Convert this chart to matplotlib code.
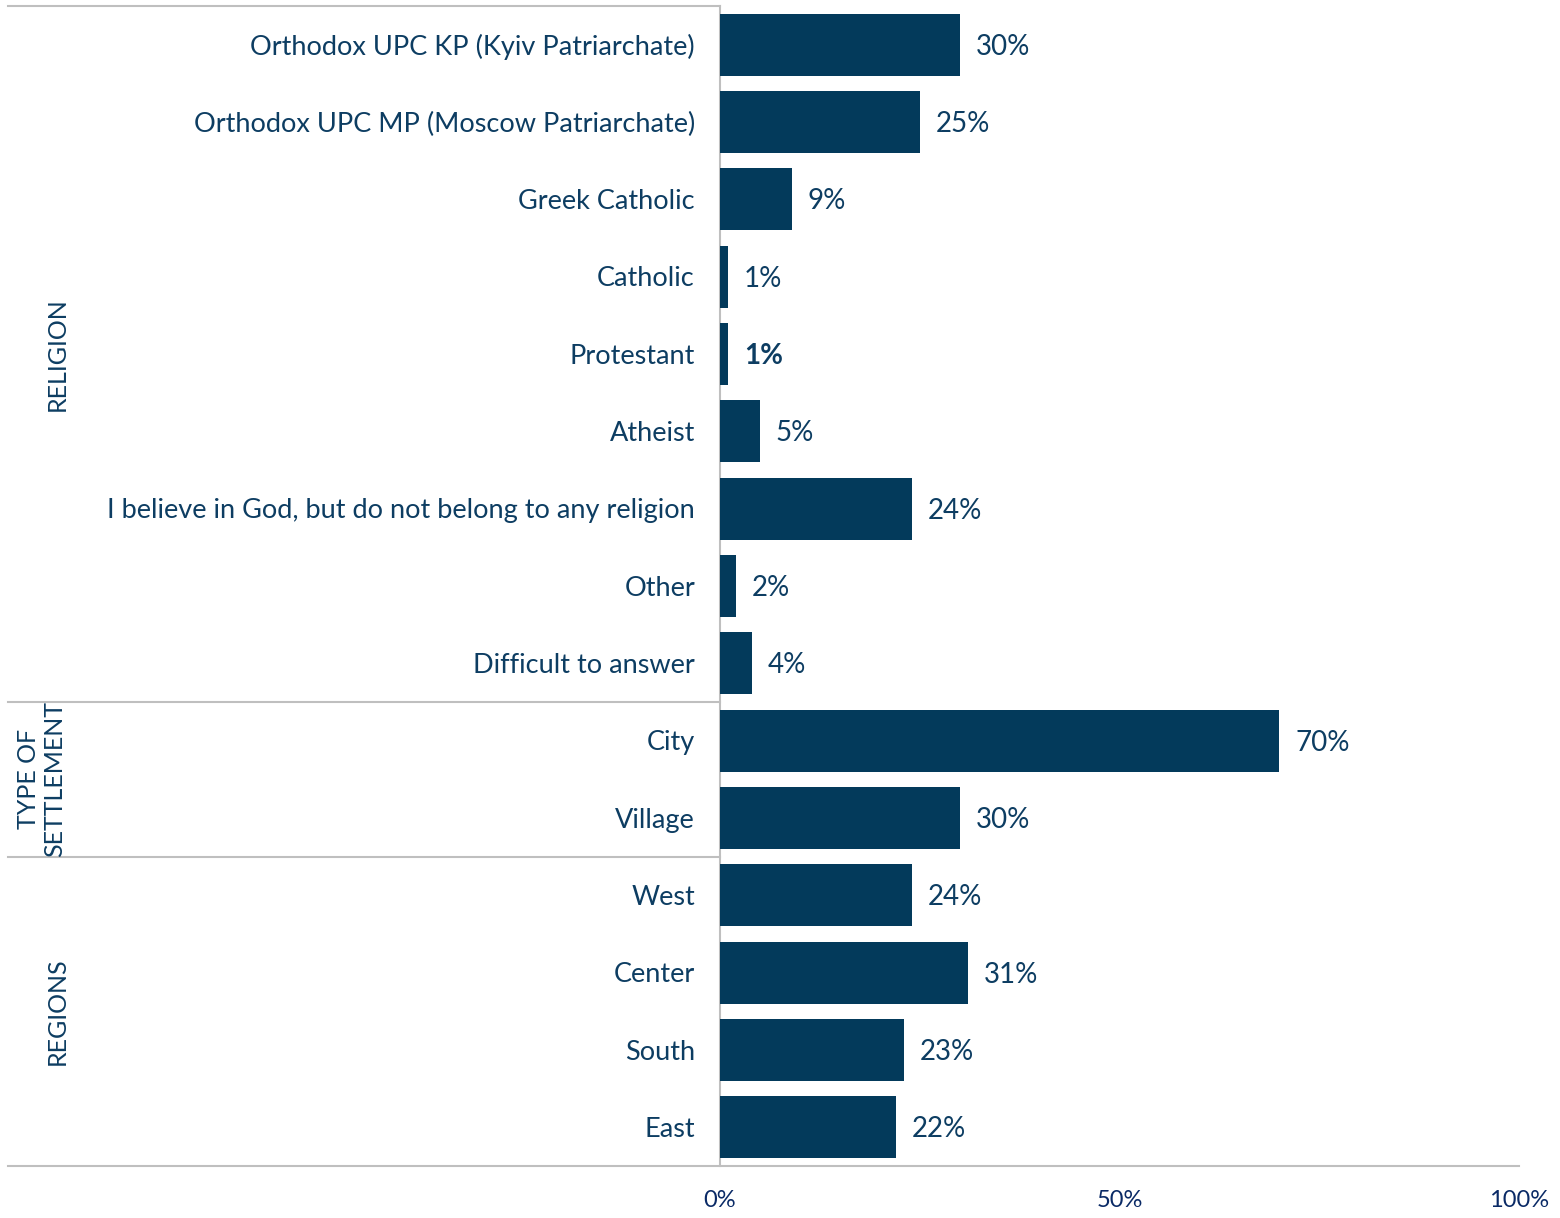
import matplotlib
matplotlib.use("Agg")
import matplotlib.pyplot as plt

# ---- data ----
categories = [
    "Orthodox UPC KP (Kyiv Patriarchate)",
    "Orthodox UPC MP (Moscow Patriarchate)",
    "Greek Catholic",
    "Catholic",
    "Protestant",
    "Atheist",
    "I believe in God, but do not belong to any religion",
    "Other",
    "Difficult to answer",
    "City",
    "Village",
    "West",
    "Center",
    "South",
    "East",
]
values = [30, 25, 9, 1, 1, 5, 24, 2, 4, 70, 30, 24, 31, 23, 22]
value_labels = ["30%", "25%", "9%", "1%", "1%", "5%", "24%", "2%", "4%",
                "70%", "30%", "24%", "31%", "23%", "22%"]
bold_labels = ["no", "no", "no", "no", "yes", "no", "no", "no", "no",
               "no", "no", "no", "no", "no", "no"]
groups = ["RELIGION", "TYPE OF\nSETTLEMENT", "REGIONS"]
group_sizes = [9, 2, 4]
x_ticks = [0, 50, 100]
x_tick_labels = ["0%", "50%", "100%"]

bar_color = "#033a5b"
text_color = "#0d3d62"
tick_color = "#0a2a66"
line_color = "#bfbfbf"

plt.rcParams['font.family'] = ['Lato', 'DejaVu Sans']

fig = plt.figure(figsize=(15.6, 12.18), dpi=100)
ax = fig.add_axes([720 / 1560, 1 - 1166 / 1218, 799 / 1560, 1160 / 1218])

y = list(range(len(categories)))
ax.barh(y, values, height=0.8, color=bar_color)
ax.set_xlim(0, 100)
ax.set_ylim(len(categories) - 0.5, -0.5)

for s in ax.spines.values():
    s.set_visible(False)
ax.set_yticks([])
ax.set_xticks(x_ticks)
ax.set_xticklabels(x_tick_labels, fontsize=17, color=tick_color)
ax.tick_params(axis='x', length=0, pad=17)

# category labels and value labels
for i, (cat, v, lab, b) in enumerate(zip(categories, values, value_labels, bold_labels)):
    ax.annotate(cat, xy=(0, i), xytext=(-25, -2), textcoords='offset pixels',
                ha='right', va='center', fontsize=19.5, color=text_color)
    ax.annotate(lab, xy=(v, i), xytext=(16, -2), textcoords='offset pixels',
                ha='left', va='center', fontsize=20, color=text_color,
                fontweight='bold' if b == "yes" else 'normal')

# grid lines: vertical axis line and group separators
trans = ax.get_yaxis_transform()
left = (8 - 720) / 799
ax.plot([0, 0], [-0.5, len(categories) - 0.5], color=line_color, lw=1.5,
        transform=trans, clip_on=False, zorder=0)
start = -0.5
for g, n in zip(groups, group_sizes):
    ax.plot([left, 0], [start, start], color=line_color, lw=1.5,
            transform=trans, clip_on=False)
    mid = start + n / 2
    xpos = -0.83 if "\n" not in g else -0.849
    ax.text(xpos, mid, g, rotation=90, ha='center', va='center',
            fontsize=18, color=text_color, transform=trans,
            multialignment='center', linespacing=1.15)
    start += n
ax.plot([left, 1], [start, start], color=line_color, lw=1.5,
        transform=trans, clip_on=False)

fig.savefig("out.png", dpi=100)
